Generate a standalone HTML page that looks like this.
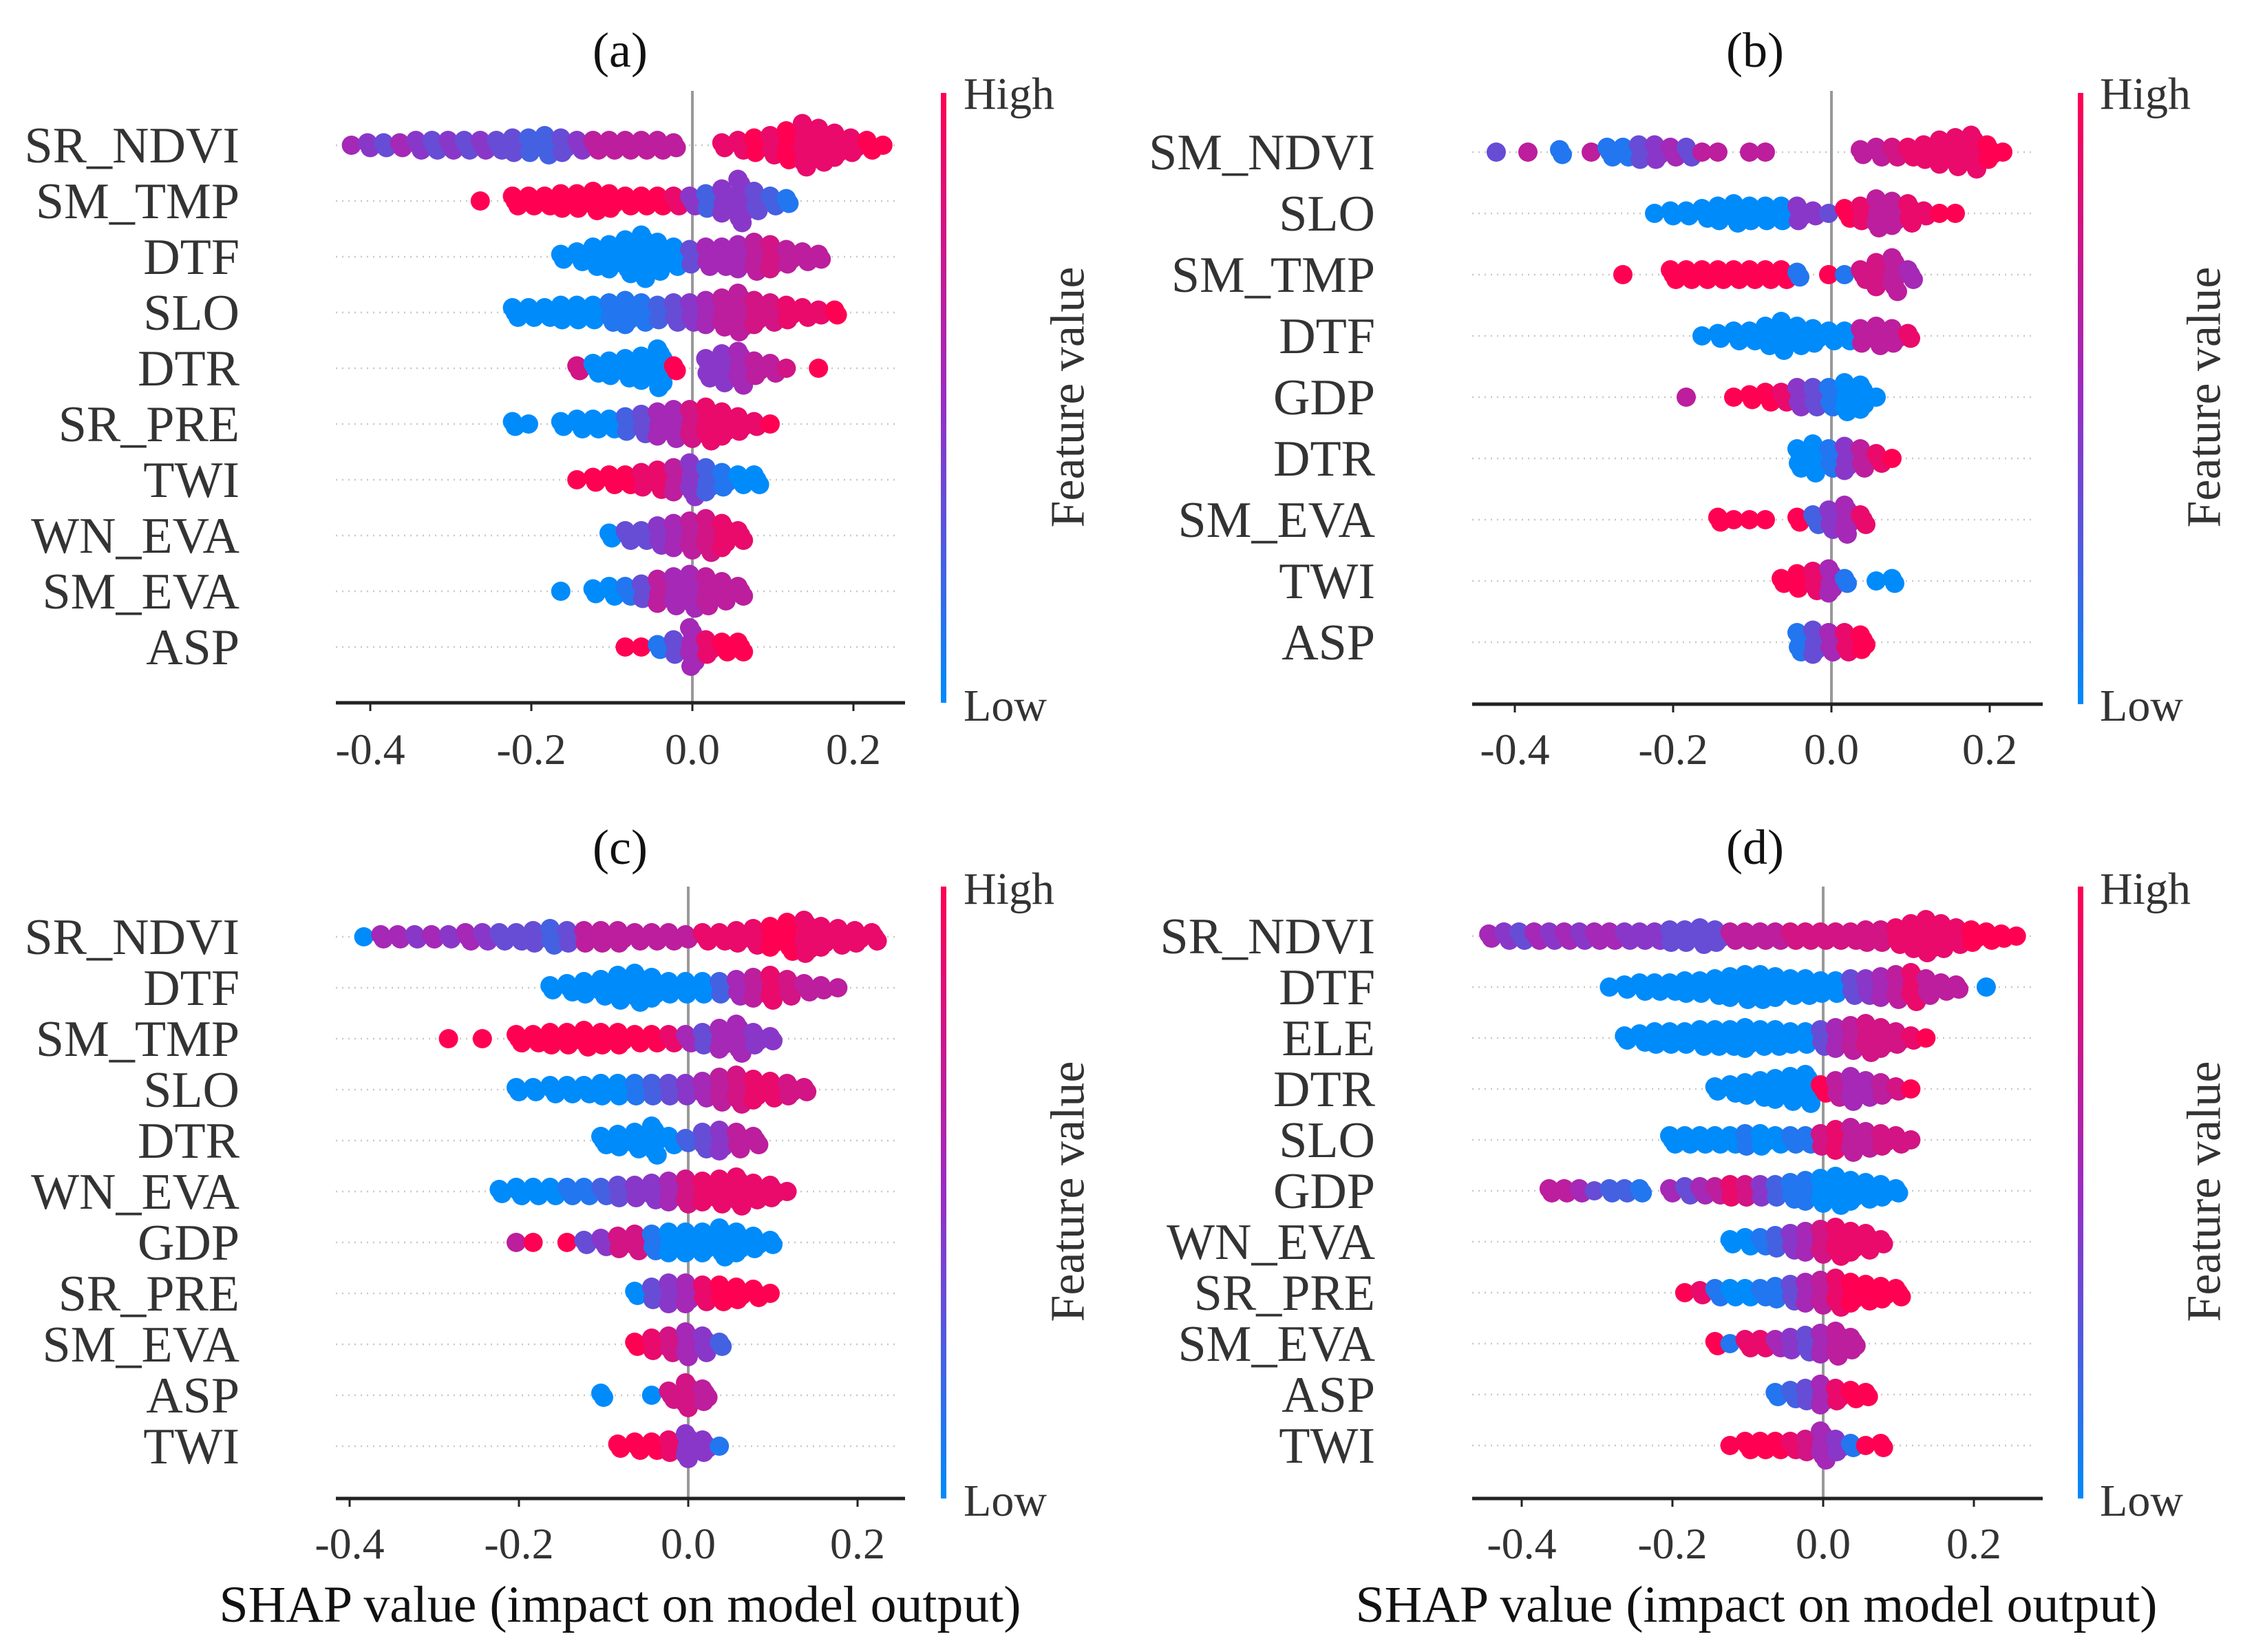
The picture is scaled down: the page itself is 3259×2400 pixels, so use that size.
<!DOCTYPE html>
<html><head><meta charset="utf-8"><style>
html,body{margin:0;padding:0;background:#fff;}
svg{display:block;font-family:"Liberation Serif","DejaVu Serif",serif;}
</style></head><body>
<svg id="fig" width="3259" height="2400" viewBox="0 0 3259 2400" xmlns="http://www.w3.org/2000/svg">
<defs>
<linearGradient id="cbgrad" x1="0" y1="1" x2="0" y2="0">
<stop offset="0" stop-color="#008bfb"/><stop offset="0.5" stop-color="#9a2dc3"/><stop offset="1" stop-color="#ff0052"/>
</linearGradient>
</defs>
</svg>
<script>
// shared bin step (SHAP units) and tick data
const binStep = 0.02;
const tickValues = [-0.4, -0.2, 0.0, 0.2];
const tickLabels = ["-0.4", "-0.2", "0.0", "0.2"];

// Panel (a)
const aNames = ["SR_NDVI","SM_TMP","DTF","SLO","DTR","SR_PRE","TWI","WN_EVA","SM_EVA","ASP"];
const aStart = [-0.42,-0.26,-0.16,-0.22,-0.14,-0.22,-0.14,-0.10,-0.16,-0.08];
const aCounts = [
[1,2,2,2,3,3,3,3,3,3,4,4,5,4,3,3,3,3,3,3,2,0,0,2,3,4,5,7,10,8,6,4,3,1],
[1,0,3,3,3,4,4,5,4,3,3,3,3,3,4,6,10,5,3,2],
[2,3,5,6,8,10,7,5,4,5,5,6,7,6,4,3,2],
[3,3,3,4,4,4,5,6,5,4,5,5,6,7,9,6,5,4,3,2,2],
[2,3,4,5,6,9,2,0,5,7,8,4,3,1,0,1],
[2,1,0,2,3,3,3,4,5,6,7,7,8,6,4,2,1],
[1,2,3,3,4,5,6,8,6,4,3,3],
[2,3,3,5,6,7,8,6,3],
[1,0,2,3,3,4,6,7,8,7,5,3],
[1,1,2,4,9,4,3,3]];
const aColors = [
[5,4,3,5,4,3,4,3,4,3,3,2,2,3,4,6,6,6,6,6,6,0,0,8,8,9,8,9,8,8,8,8,9,9],
[9,0,9,9,9,9,9,9,9,9,9,9,8,4,2,4,4,3,2,1],
[0,0,0,0,0,0,0,0,3,5,5,5,6,7,6,6,6],
[0,0,0,0,0,0,1,1,1,2,3,4,5,6,6,7,7,8,8,8,9],
[7,0,0,0,0,0,9,0,4,4,5,6,6,7,0,9],
[0,0,0,0,0,0,0,2,3,5,5,7,8,8,8,8,9],
[9,9,9,9,8,8,6,4,2,1,0,0],
[0,3,3,4,5,6,7,8,8],
[0,0,0,0,1,3,6,5,5,6,6,6],
[9,9,1,3,5,8,9,9]];

// Panel (b)
const bNames = ["SM_NDVI","SLO","SM_TMP","DTF","GDP","DTR","SM_EVA","TWI","ASP"];
const bStart = [-0.42,-0.22,-0.26,-0.16,-0.18,-0.04,-0.14,-0.06,-0.04];
const bCounts = [
[1,0,1,0,2,0,1,3,3,4,4,3,3,1,1,0,1,1,0,0,0,0,0,2,3,3,3,4,6,7,8,4,1],
[1,2,2,3,4,5,4,4,4,4,2,1,3,4,7,6,5,2,1,1],
[1,0,0,3,3,3,3,3,3,3,3,2,0,1,1,3,6,8,3],
[1,2,3,3,5,7,5,4,3,3,4,5,4,2],
[1,0,0,1,2,3,3,5,5,5,7,6,1],
[5,7,5,6,5,3,1],
[2,1,1,1,0,2,3,5,7,3],
[2,4,5,6,2,0,1,2],
[5,6,5,5,4]];
const bColors = [
[3,0,6,0,1,0,6,1,1,3,4,5,3,6,6,0,6,6,0,0,0,0,0,6,6,7,8,8,8,8,8,9,9],
[0,0,0,0,0,0,0,0,0,4,4,3,9,8,6,6,8,8,9,9],
[9,0,0,9,9,9,9,9,9,9,9,1,0,9,1,7,7,6,5],
[0,0,0,0,0,0,0,0,0,0,6,6,6,8],
[6,0,0,9,9,9,8,4,3,1,0,0,0],
[0,0,1,4,6,8,9],
[9,9,9,9,0,9,2,4,5,8],
[9,9,8,5,1,0,0,0],
[1,3,5,8,9]];

// Panel (c)
const cNames = ["SR_NDVI","DTF","SM_TMP","SLO","DTR","WN_EVA","GDP","SR_PRE","SM_EVA","ASP","TWI"];
const cStart = [-0.38,-0.16,-0.28,-0.20,-0.10,-0.22,-0.20,-0.06,-0.06,-0.10,-0.08];
const cCounts = [
[1,2,2,2,2,2,3,3,3,3,4,5,4,4,4,4,3,3,3,2,3,3,4,5,6,8,9,6,5,4,3],
[2,3,4,5,7,8,6,4,4,4,4,5,6,7,5,3,2,1],
[1,0,1,0,3,3,4,4,5,4,4,3,3,3,3,4,6,8,4,2],
[2,2,3,3,3,4,4,4,4,4,4,5,7,8,6,5,4,2],
[3,4,5,8,3,2,5,6,5,3],
[2,3,3,3,3,3,3,4,4,5,6,7,6,7,8,5,4,1],
[1,1,0,1,2,3,4,5,5,6,6,6,8,6,4,2],
[2,4,6,6,5,5,4,3,1],
[2,4,5,7,5,2],
[2,0,0,1,3,7,4],
[2,3,3,4,7,4,1]];
const cColors = [
[0,5,5,4,5,4,5,4,3,3,3,2,3,6,6,6,6,6,6,6,8,8,8,8,9,9,8,8,8,8,8],
[0,0,0,0,0,0,0,0,0,0,2,5,6,8,7,6,6,6],
[9,0,9,0,9,9,9,9,9,9,9,9,9,8,5,3,5,5,4,4],
[0,0,0,0,0,0,0,1,2,3,4,5,6,7,8,8,7,7],
[0,0,0,0,0,2,3,4,6,6],
[0,0,0,0,1,1,2,3,4,4,5,7,8,8,8,8,8,8],
[6,9,0,9,3,4,7,7,1,0,0,0,0,0,0,0],
[0,3,4,5,8,9,9,9,9],
[9,8,7,5,4,2],
[0,0,0,0,7,7,6],
[9,9,9,8,4,4,1]];

// Panel (d)
const dNames = ["SR_NDVI","DTF","ELE","DTR","SLO","GDP","WN_EVA","SR_PRE","SM_EVA","ASP","TWI"];
const dStart = [-0.44,-0.28,-0.26,-0.14,-0.20,-0.36,-0.12,-0.18,-0.14,-0.06,-0.12];
const dCounts = [
[2,3,3,3,3,3,3,3,3,3,3,3,4,4,5,4,3,3,3,3,3,3,3,3,3,4,4,5,7,9,7,5,4,3,2,1],
[1,2,3,3,3,4,4,5,6,7,7,6,5,5,4,4,5,5,6,7,8,5,3,2,0,1],
[2,3,4,4,4,5,5,5,6,5,5,4,4,5,6,7,8,6,4,2,1],
[2,3,4,5,6,7,8,3,5,7,5,4,2,1],
[3,3,3,3,3,4,4,3,3,3,4,6,7,5,4,3,1],
[2,2,2,1,2,2,2,0,2,3,3,3,4,4,4,4,5,6,7,8,6,5,4,2],
[2,3,3,4,5,6,7,8,6,5,2],
[1,2,3,3,3,3,4,5,6,7,8,6,5,4,3],
[2,1,3,3,3,4,5,6,7,4],
[2,3,4,6,4,3,2],
[1,3,3,3,3,4,8,4,2,1,2]];
const dColors = [
[5,4,3,5,4,5,4,5,5,4,4,4,3,3,3,3,6,6,6,6,7,7,7,7,7,7,7,8,8,8,8,8,9,9,9,9],
[0,0,0,0,0,0,0,0,0,0,0,0,0,0,0,0,3,4,5,6,8,6,6,6,0,0],
[0,0,0,0,0,0,0,0,0,0,0,0,0,3,5,6,7,7,7,8,9],
[0,0,0,0,0,0,0,9,6,5,5,6,7,9],
[0,0,0,0,0,1,0,0,1,1,7,8,6,6,7,7,7],
[6,6,5,3,2,2,1,0,5,3,5,6,8,7,4,2,1,1,0,0,0,0,0,0],
[0,0,1,2,4,5,7,8,8,8,8],
[9,8,1,0,0,1,1,3,5,6,8,9,9,9,9],
[9,1,8,8,5,4,3,5,6,6],
[1,2,3,5,8,9,9],
[9,9,9,9,8,7,5,4,1,9,9]];

const NS = "http://www.w3.org/2000/svg";
const svg = document.getElementById("fig");
function mk(tag, attrs, parent){
  const e = document.createElementNS(NS, tag);
  for (const k in attrs) e.setAttribute(k, attrs[k]);
  (parent||svg).appendChild(e);
  return e;
}
function colorOf(c){
  const t = c/9;
  const s0=[0,139,251], s1=[154,45,195], s2=[255,0,82];
  let a,b,u;
  if (t<0.5){a=s0;b=s1;u=t/0.5;} else {a=s1;b=s2;u=(t-0.5)/0.5;}
  const r=a.map((v,i)=>Math.round(v+(b[i]-v)*u));
  return "rgb("+r.join(",")+")";
}

const panels = [
 {id:"a", names:aNames, start:aStart, counts:aCounts, colors:aColors, zero:1006, ppu:1170, axisY:1021, axisL:488, axisR:1315, row0:211, rowStep:81, cbX:1371, cbTop:135, labelR:348, titleX:901, titleY:97, fvX:1552, fvY:577, tickY:1110, highY:158, lowY:1047, hlX:1400, step:7, zeroTop:132},
 {id:"b", names:bNames, start:bStart, counts:bCounts, colors:bColors, zero:2661, ppu:1150, axisY:1023, axisL:2139, axisR:2968, row0:221, rowStep:89, cbX:3023, cbTop:135, labelR:1998, titleX:2550, titleY:97, fvX:3203, fvY:577, tickY:1110, highY:158, lowY:1047, hlX:3051, step:7, zeroTop:132},
 {id:"c", names:cNames, start:cStart, counts:cCounts, colors:cColors, zero:1000, ppu:1230, axisY:2177, axisL:488, axisR:1315, row0:1361, rowStep:74, cbX:1371, cbTop:1288, labelR:348, titleX:901, titleY:1255, fvX:1552, fvY:1731, tickY:2264, highY:1313, lowY:2202, hlX:1400, step:6, zeroTop:1288, xlabX:901},
 {id:"d", names:dNames, start:dStart, counts:dCounts, colors:dColors, zero:2649, ppu:1095, axisY:2177, axisL:2139, axisR:2968, row0:1360, rowStep:74, cbX:3023, cbTop:1288, labelR:1998, titleX:2550, titleY:1255, fvX:3203, fvY:1731, tickY:2264, highY:1313, lowY:2202, hlX:3051, step:6, zeroTop:1288, xlabX:2552}
];

panels.forEach(p=>{
  const g = mk("g",{});
  
  
  const xs = v => p.zero + v*p.ppu;
  const ys = i => p.row0 + i*p.rowStep;

  const t = mk("text",{x:p.titleX,y:p.titleY,"font-size":72,"text-anchor":"middle",fill:"#111"},g);
  t.textContent = "("+p.id+")";
  
  

  p.names.forEach((n,i)=>{
    const gl = mk("line",{x1:p.axisL,x2:p.axisR-12,y1:ys(i),y2:ys(i),stroke:"#c8c8c8","stroke-width":2.5,"stroke-dasharray":"2 7"},g);
    
    
    const lb = mk("text",{x:p.labelR,y:ys(i)+25,"font-size":74,"text-anchor":"end",fill:"#333"},g);
    lb.textContent = n;
    
    
  });

  const zl = mk("line",{x1:xs(0),x2:xs(0),y1:p.zeroTop,y2:p.axisY,stroke:"#999","stroke-width":4},g);
  
  

  const dg = mk("g",{},g);
  
  
  p.names.forEach((n,i)=>{
    const cnt = p.counts[i], col = p.colors[i];
    cnt.forEach((k,b)=>{
      const v = p.start[i] + b*binStep;
      for (let j=0;j<k;j++){
        const off = (j-(k-1)/2)*p.step;
        const dx = (((j*7)%5)-2)*2;
        const c = mk("circle",{cx:(xs(v)+dx).toFixed(1),cy:(ys(i)+off).toFixed(1),r:14,fill:colorOf(col[b])},dg);
        
        
      }
    });
  });

  const ax = mk("line",{x1:p.axisL,x2:p.axisR,y1:p.axisY,y2:p.axisY,stroke:"#222","stroke-width":5},g);
  
  
  tickValues.forEach((tv,k)=>{
    const tk = mk("line",{x1:xs(tv),x2:xs(tv),y1:p.axisY,y2:p.axisY+12,stroke:"#222","stroke-width":3},g);
    
    
    const tl = mk("text",{x:xs(tv),y:p.tickY,"font-size":64,"text-anchor":"middle",fill:"#333"},g);
    tl.textContent = tickLabels[k];
    
    
  });

  const cb = mk("rect",{x:p.cbX-4,y:p.cbTop,width:8,height:p.axisY-p.cbTop,fill:"url(#cbgrad)"},g);
  
  
  const hi = mk("text",{x:p.hlX,y:p.highY,"font-size":66,fill:"#333"},g);
  hi.textContent = "High";
  
  
  const lo = mk("text",{x:p.hlX,y:p.lowY,"font-size":66,fill:"#333"},g);
  lo.textContent = "Low";
  
  
  const fv = mk("text",{x:p.fvX,y:p.fvY,"font-size":70,"text-anchor":"middle","dominant-baseline":"central",fill:"#333",transform:"rotate(-90 "+p.fvX+" "+p.fvY+")"},g);
  fv.textContent = "Feature value";
  
  

  if (p.xlabX){
    const xl = mk("text",{x:p.xlabX,y:2356,"font-size":75,"text-anchor":"middle",fill:"#111",textLength:1165,lengthAdjust:"spacingAndGlyphs"},g);
    xl.textContent = "SHAP value (impact on model output)";
    
    
  }
});
</script>
</body></html>
